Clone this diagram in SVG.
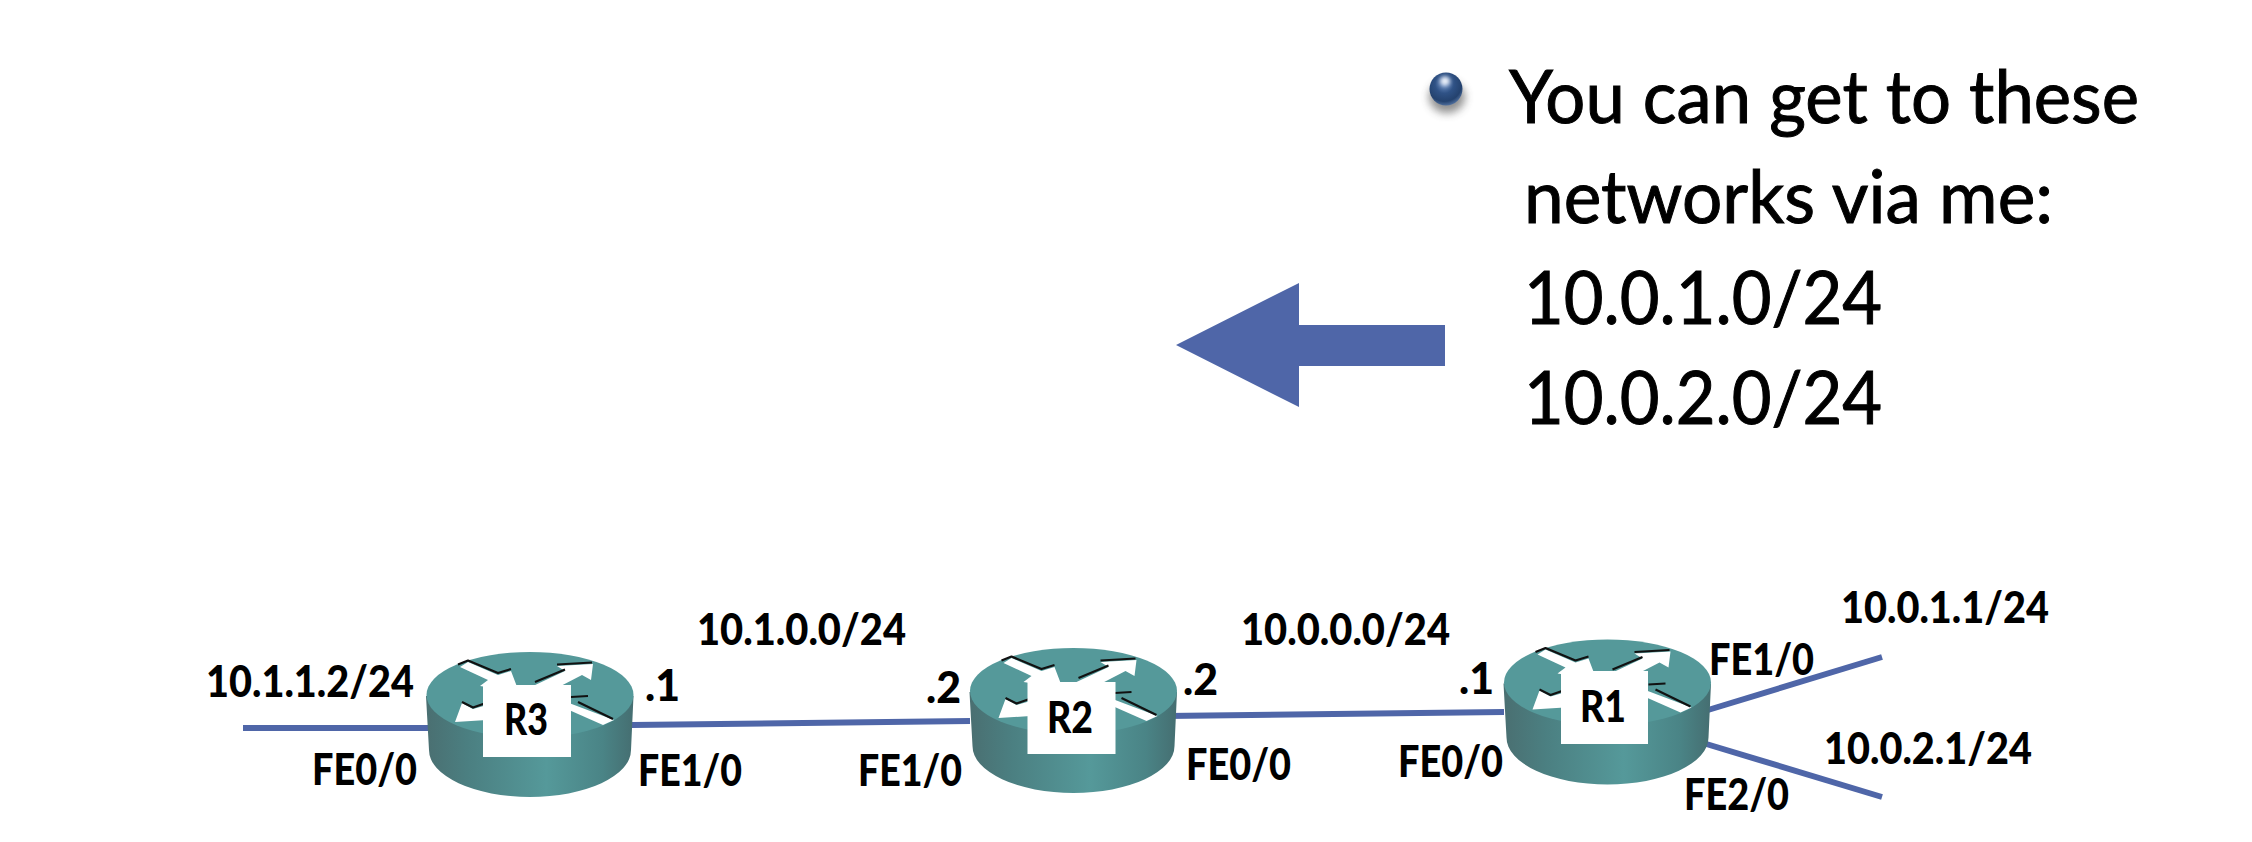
<svg xmlns="http://www.w3.org/2000/svg" xmlns:xlink="http://www.w3.org/1999/xlink" width="2252" height="842" viewBox="0 0 2252 842">
<style>
.main{font-family:"Lato","Liberation Sans",sans-serif;font-size:73px;fill:#000;stroke:#000;stroke-width:1}
.lbl{font-family:"Lato","Liberation Sans",sans-serif;font-weight:900;font-size:43px;fill:#000}
.rn{font-family:"Lato","Liberation Sans",sans-serif;font-weight:900;font-size:43px;fill:#000}
.link{stroke:#4f66a8;stroke-width:6;fill:none}
.arr{fill:#fff}
.sh{fill:none;stroke:#111;stroke-width:2.2;stroke-linejoin:round}
</style>
<defs>
<linearGradient id="body" x1="0" x2="1" y1="0" y2="0">
<stop offset="0" stop-color="#4a6f71"/>
<stop offset="0.2" stop-color="#4b7f81"/>
<stop offset="0.58" stop-color="#55999a"/>
<stop offset="0.85" stop-color="#4a8486"/>
<stop offset="1" stop-color="#456e71"/>
</linearGradient>
<radialGradient id="ball" cx="0.45" cy="0.35" r="0.7">
<stop offset="0" stop-color="#6f90c4"/>
<stop offset="0.4" stop-color="#2f5286"/>
<stop offset="0.75" stop-color="#24426e"/>
<stop offset="1" stop-color="#5f7fae"/>
</radialGradient>
<filter id="blur" x="-50%" y="-50%" width="200%" height="200%"><feGaussianBlur stdDeviation="4"/></filter>
<filter id="blur2" x="-50%" y="-50%" width="200%" height="200%"><feGaussianBlur stdDeviation="2"/></filter>
<g id="router">
<path d="M426,696 L429,750 A101,47 0 0 0 631,750 L633.500,696 Z" fill="url(#body)"/>
<ellipse cx="530" cy="695" rx="103.500" ry="43" fill="#55999a"/>
<path class="arr" d="M460,667 L468,662 L498,675 L511,671 L519,692 L480,686 L488,680 Z"/>
<path class="sh" d="M458,664.500 L468,660.500 L498,673 L511,669"/>
<path class="arr" d="M533,686 L565,671 L557,666 L593,664 L591,680 L582,675 L553,690 Z"/>
<path class="sh" d="M535,682 L565,669.500 M557,664.500 L592,662.500"/>
<path class="arr" d="M462,703 L473,709 L487,705 L487,720 L455,722 Z"/>
<path class="sh" d="M462,702 L473,707.500 L486,703"/>
<path class="arr" d="M569,703 L614,720 L603,725 L569,710 Z"/>
<path class="sh" d="M571,697 L588,696 M578,702 L613,719"/>
</g>
</defs>
<g id="connectors">
<line class="link" x1="243" y1="728" x2="430" y2="728"/>
<line class="link" x1="632" y1="725" x2="970" y2="721"/>
<line class="link" x1="1166" y1="716" x2="1504" y2="712"/>
<line class="link" x1="1708" y1="710" x2="1882" y2="657"/>
<line class="link" x1="1703" y1="743" x2="1882" y2="797"/>
</g>
<g id="r3">
<use href="#router" xlink:href="#router"/>
<rect x="483" y="685" width="88" height="72" fill="#fff"/>
<text class="rn" x="504" y="735" textLength="44" lengthAdjust="spacingAndGlyphs">R3</text>
</g>
<g id="r2">
<use href="#router" xlink:href="#router" transform="translate(543.500,-4)"/>
<rect x="1027.500" y="682" width="88" height="72" fill="#fff"/>
<text class="rn" x="1047" y="733" textLength="46" lengthAdjust="spacingAndGlyphs">R2</text>
</g>
<g id="r1">
<use href="#router" xlink:href="#router" transform="translate(1077.500,-12.500)"/>
<rect x="1561" y="671" width="87" height="73" fill="#fff"/>
<text class="rn" x="1580" y="722" textLength="46" lengthAdjust="spacingAndGlyphs">R1</text>
</g>
<g id="labels">
<text class="lbl" x="206" y="697" textLength="208" lengthAdjust="spacingAndGlyphs">10.1.1.2/24</text>
<text class="lbl" x="697" y="645" textLength="209" lengthAdjust="spacingAndGlyphs">10.1.0.0/24</text>
<text class="lbl" x="1241" y="645" textLength="209" lengthAdjust="spacingAndGlyphs">10.0.0.0/24</text>
<text class="lbl" x="1841" y="623" textLength="208" lengthAdjust="spacingAndGlyphs">10.0.1.1/24</text>
<text class="lbl" x="1824" y="764" textLength="208" lengthAdjust="spacingAndGlyphs">10.0.2.1/24</text>
<text class="lbl" x="312" y="785" textLength="105" lengthAdjust="spacingAndGlyphs">FE0/0</text>
<text class="lbl" x="638" y="786" textLength="104" lengthAdjust="spacingAndGlyphs">FE1/0</text>
<text class="lbl" x="858" y="786" textLength="104" lengthAdjust="spacingAndGlyphs">FE1/0</text>
<text class="lbl" x="1186" y="780" textLength="105" lengthAdjust="spacingAndGlyphs">FE0/0</text>
<text class="lbl" x="1398" y="777" textLength="105" lengthAdjust="spacingAndGlyphs">FE0/0</text>
<text class="lbl" x="1709" y="675" textLength="105" lengthAdjust="spacingAndGlyphs">FE1/0</text>
<text class="lbl" x="1684" y="810" textLength="105" lengthAdjust="spacingAndGlyphs">FE2/0</text>
<text class="lbl" x="645" y="701" textLength="35" lengthAdjust="spacingAndGlyphs">.1</text>
<text class="lbl" x="926" y="703" textLength="35" lengthAdjust="spacingAndGlyphs">.2</text>
<text class="lbl" x="1183" y="695" textLength="35" lengthAdjust="spacingAndGlyphs">.2</text>
<text class="lbl" x="1459" y="694" textLength="35" lengthAdjust="spacingAndGlyphs">.1</text>
</g>
<polygon id="big-arrow" points="1176,345 1299,283 1299,325 1445,325 1445,366 1299,366 1299,407" fill="#4f66a8"/>
<g id="bullet">
<ellipse cx="1447" cy="97" rx="18" ry="16" fill="#444" opacity="0.6" filter="url(#blur)"/>
<circle cx="1446" cy="89" r="16.500" fill="url(#ball)"/>
<ellipse cx="1445" cy="81" rx="5" ry="4.500" fill="#eef3fb" filter="url(#blur2)"/>
</g>
<g id="note">
<text class="main" x="1509" y="123" textLength="630" lengthAdjust="spacingAndGlyphs">You can get to these</text>
<text class="main" x="1524" y="223" textLength="529" lengthAdjust="spacingAndGlyphs">networks via me:</text>
<text class="main" x="1524" y="324" textLength="358" lengthAdjust="spacingAndGlyphs">10.0.1.0/24</text>
<text class="main" x="1524" y="424" textLength="358" lengthAdjust="spacingAndGlyphs">10.0.2.0/24</text>
</g>
</svg>
